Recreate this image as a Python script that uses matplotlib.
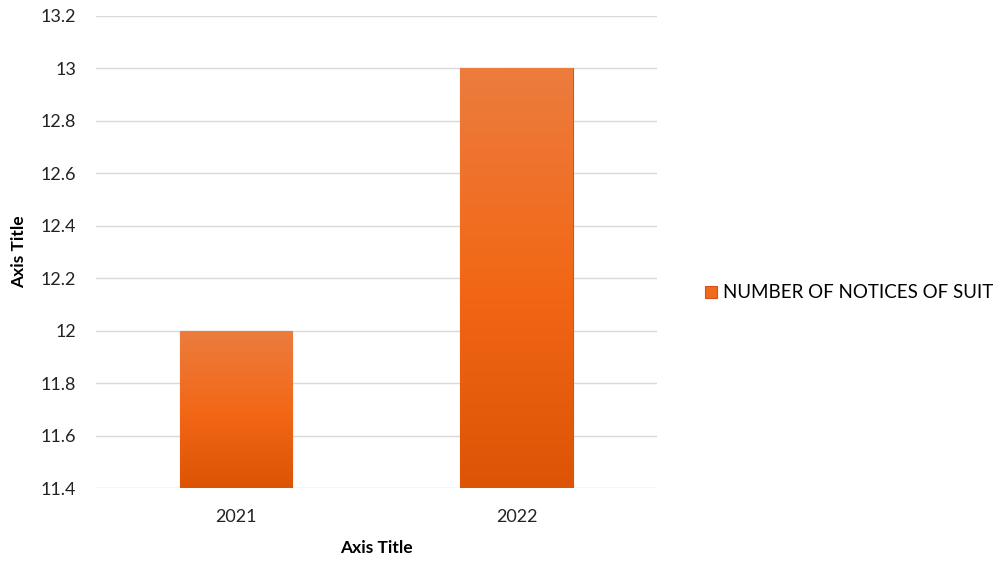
import matplotlib
matplotlib.use("Agg")
import matplotlib.pyplot as plt
import numpy as np
from matplotlib.colors import LinearSegmentedColormap

years = ["2021", "2022"]
notices = [12, 13]
series_name = "NUMBER OF NOTICES OF SUIT"
y_ticks = [11.4, 11.6, 11.8, 12.0, 12.2, 12.4, 12.6, 12.8, 13.0, 13.2]
y_tick_labels = ["11.4", "11.6", "11.8", "12", "12.2", "12.4", "12.6", "12.8", "13", "13.2"]

plt.rcParams["font.family"] = ["Lato", "DejaVu Sans"]

fig = plt.figure(figsize=(9.98, 5.61), dpi=100)
ax = fig.add_axes([0.096, 0.130, 0.562, 0.8415])

x = np.arange(len(years))
bars = ax.bar(x, notices, width=0.4, bottom=0, color="#F06A1C",
              edgecolor="#D9501A", linewidth=0.8, zorder=2, label=series_name)

# vertical gradient inside each bar (lighter top, darker bottom)
cmap = LinearSegmentedColormap.from_list("og", ["#DE5406", "#F26817", "#EC7C3E"])
grad = np.linspace(0, 1, 256).reshape(-1, 1)
for b in bars:
    x0, w, h = b.get_x(), b.get_width(), b.get_height()
    im = ax.imshow(grad, extent=[x0, x0 + w, 11.4, h], origin="lower",
                   cmap=cmap, aspect="auto", zorder=2.5)
    im.set_clip_path(b)

ax.set_xlim(-0.5, 1.5)
ax.set_ylim(11.4, 13.2)
ax.set_yticks(y_ticks)
ax.set_yticklabels(y_tick_labels)
ax.set_xticks(x)
ax.set_xticklabels(years)
ax.tick_params(axis="both", length=0, labelsize=13, colors="#222222")
ax.tick_params(axis="y", pad=14)
ax.tick_params(axis="x", pad=15)
for s in ax.spines.values():
    s.set_visible(False)
ax.grid(axis="y", color="#d9d9d9", linewidth=1.0, zorder=0)
ax.set_axisbelow(True)

ax.set_xlabel("Axis Title", fontsize=12.5, fontweight="bold", labelpad=11)
ax.set_ylabel("Axis Title", fontsize=12.5, fontweight="bold", labelpad=10)

fig.legend(handles=[bars], labels=[series_name], loc="center left",
           bbox_to_anchor=(0.69, 0.478), frameon=False, fontsize=13.5,
           handlelength=0.6, handleheight=0.6, handletextpad=0.35)

fig.savefig("out.png", dpi=100)
